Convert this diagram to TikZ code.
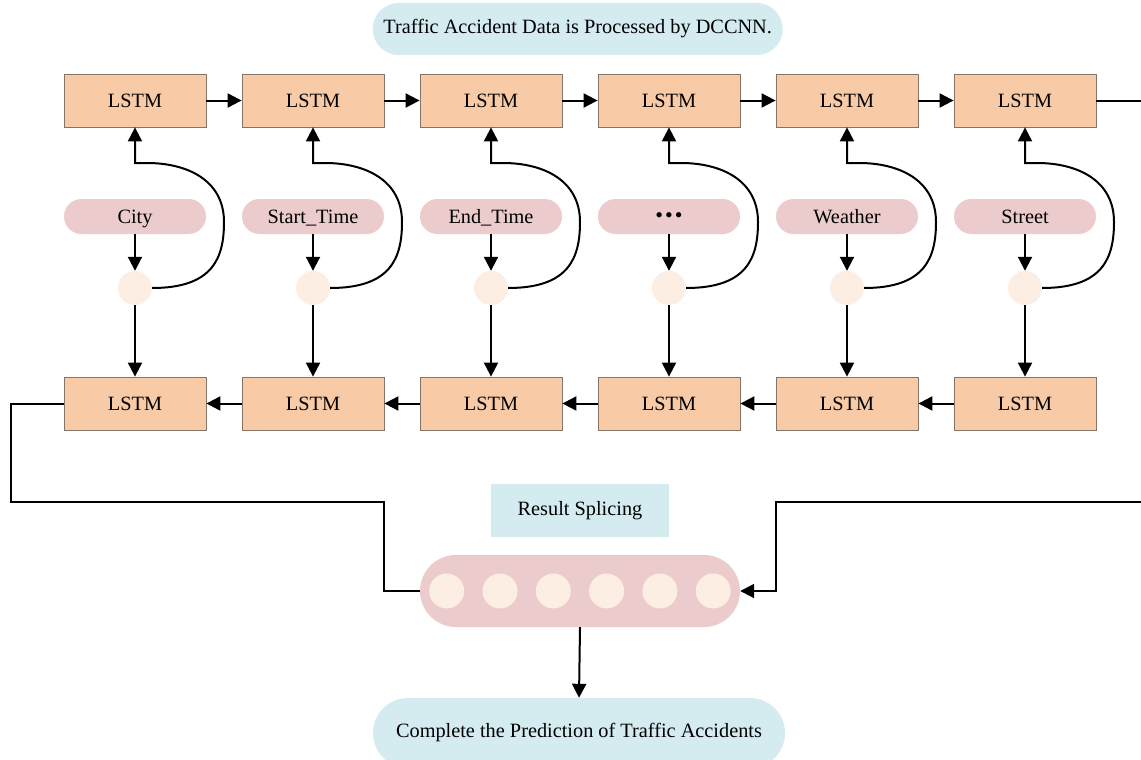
\documentclass[tikz,border=0pt]{standalone}
\usepackage{fontspec}
\setmainfont{Liberation Serif}
\usetikzlibrary{arrows.meta,shapes.misc,calc}
\definecolor{lstmfill}{HTML}{F8CBA6}
\definecolor{lstmedge}{HTML}{857468}
\definecolor{pillpink}{HTML}{EBCBCB}
\definecolor{jointfill}{HTML}{FCEEE2}
\definecolor{paleblue}{HTML}{D4EBF0}
\newcommand\moredots{{\fontsize{22}{22}\selectfont \raisebox{1pt}{•\hspace{2pt}•\hspace{2pt}•}}}

\begin{document}
\begin{tikzpicture}[x=1pt,y=-1pt,
  font=\fontsize{20.3}{24}\selectfont,
  lstm/.style={draw=lstmedge,line width=0.8pt,fill=lstmfill,
    minimum width=142pt,minimum height=53pt,inner sep=0pt},
  feat/.style={rounded rectangle,fill=pillpink,
    minimum width=142pt,minimum height=35pt,inner sep=0pt,
    text height=16pt,text depth=3pt},
  joint/.style={circle,fill=jointfill,minimum size=34pt,inner sep=0pt},
  cell/.style={circle,fill=jointfill,minimum size=35pt,inner sep=0pt},
  bluepill/.style={rounded rectangle,fill=paleblue,inner sep=0pt},
  link/.style={line width=2pt,draw=black},
  arr/.style={link,-{Triangle[length=14pt,width=14pt]}},
]
\useasboundingbox (0,0) rectangle (1141,760);

% title
\node[bluepill,minimum width=410pt,minimum height=52pt] (title) at (577.7,29)
  {Traffic Accident Data is Processed by DCCNN.};

% columns: forward LSTM, feature, joint, backward LSTM
\foreach \i/\x/\t in {1/135/City,2/313/Start\_Time,3/491/End\_Time,
                      4/669/\moredots,5/847/Weather,6/1025/Street}{
  \node[lstm]  (t\i) at (\x,100.5) {LSTM};
  \node[feat]  (f\i) at (\x,216.5) {\t};
  \node[joint] (j\i) at (\x,288)   {};
  \node[lstm]  (b\i) at (\x,403.5) {LSTM};
  \draw[arr] (f\i.south) -- (j\i.north);
  \draw[arr] (j\i.south) -- (b\i.north);
  \draw[arr] (j\i.east)
     .. controls ($(j\i)+(78,0)$) and ($(j\i)+(89,-30)$) .. ($(j\i)+(89,-66)$)
     .. controls ($(j\i)+(89,-108)$) and ($(j\i)+(52,-125)$) .. ($(j\i)+(12,-125)$)
     -- ($(j\i)+(0,-125)$) -- (t\i.south);
}

% chain links
\foreach \i/\j in {1/2,2/3,3/4,4/5,5/6}{
  \draw[arr] (t\i.east) -- (t\j.west);
  \draw[arr] (b\j.west) -- (b\i.east);
}
\coordinate (rt) at (1141,100.5);
\draw[link] (t6.east) -- (rt);

% splicing
\node[fill=paleblue,minimum width=178pt,minimum height=53pt,inner sep=0pt]
  (label) at (580,510.5) {Result Splicing};
\node[rounded rectangle,fill=pillpink,minimum width=320pt,minimum height=72pt,
  inner sep=0pt] (splice) at (580,591) {};
\foreach \k in {0,...,5}{
  \node[cell] (s\k) at ({446.7+\k*53.3},591) {};
}

% outputs of both directions into the splice
\coordinate (lbend) at (10.7,501.7);
\coordinate (lmid)  at (384.3,501.7);
\draw[link] (b1.west) -| (lbend) -- (lmid) |- (splice.west);
\coordinate (rin)   at (1141,501.7);
\coordinate (rbend) at (775.7,501.7);
\draw[arr] (rin) -- (rbend) |- (splice.east);

% prediction
\node[bluepill,minimum width=412pt,minimum height=70pt] (pred) at (579,733)
  {Complete the Prediction of Traffic Accidents};
\draw[arr] (splice.south) -- (pred.north);
\end{tikzpicture}
\end{document}
